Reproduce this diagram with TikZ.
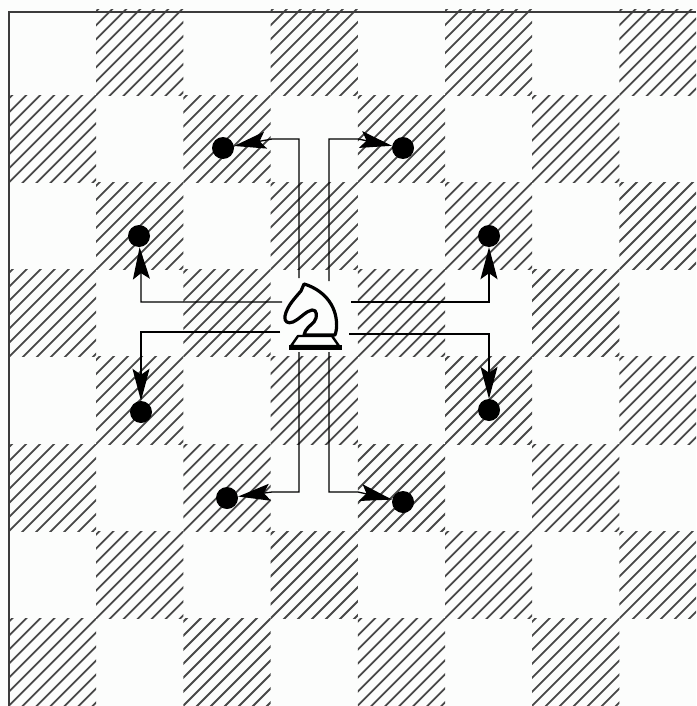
\documentclass[tikz,border=0pt]{standalone}
\usetikzlibrary{arrows.meta}
\definecolor{paper}{HTML}{FCFDFC}
\definecolor{ink}{HTML}{1A1A1A}
\tikzset{
  x=1pt,y=-1pt,
  hatchline/.style={line width=1.8pt,draw=ink!80!white,line cap=butt},
  frameline/.style={line width=1.4pt,draw=ink!85!white},
  movearrow/.style={line width=1.3pt,draw=black,line join=miter,-{Stealth[length=32pt,width=17pt,inset=6pt]}},
  targetdot/.style={circle,fill=black,inner sep=0pt,minimum size=22pt},
  knightbox/.style={inner sep=0pt,minimum width=60pt,minimum height=68pt},
  knightline/.style={line width=3.2pt,draw=black,fill=paper,line join=round,line cap=round},
  knightfoot/.style={line width=4.5pt,draw=black,line cap=butt},
}
\newcommand{\darksq}[2]{%
  \begin{scope}
    \clip (#1,#2) rectangle ++(87.2,87.2);
    \foreach \k in {-84,-70,...,84} {
      \draw[hatchline] (#1-6+\k,#2+87.2+6) -- ++(100,-100);
    }
  \end{scope}}
\begin{document}
\begin{tikzpicture}
\useasboundingbox (0,0) rectangle (696,706);
\fill[paper] (0,0) rectangle (696,706);
\begin{scope}
\clip (9,10) rectangle (696,706);
\foreach \c in {0,...,7} {
  \foreach \r in {0,...,7} {
    \pgfmathtruncatemacro{\parity}{mod(\c+\r,2)}
    \ifnum\parity=1
      \pgfmathsetmacro{\px}{9+87.2*\c}
      \pgfmathsetmacro{\py}{8+87.2*\r}
      \darksq{\px}{\py}
    \fi
  }
}
\end{scope}
\draw[frameline] (9,706) -- (9,12) -- (696,12);
\node[knightbox] (knight) at (313,315) {};
\draw[knightline] (304,284)
  .. controls (318,288) and (335,300) .. (336.5,322)
  .. controls (337,328) and (336,332) .. (335,335)
  -- (304,335)
  .. controls (305,329) and (310,326) .. (314,322)
  .. controls (318,317) and (317,309) .. (312,310)
  .. controls (306,311) and (301,318) .. (293,322)
  .. controls (288,324) and (284,322) .. (285,316)
  .. controls (287,306) and (295,298) .. (301,291)
  -- cycle;
\draw[knightline,line width=2.4pt] (298,336) -- (332,336) -- (339,346) -- (291,346) -- cycle;
\draw[knightfoot] (289,347.5) -- (342,347.5);
\node[targetdot] (d1) at (223,148) {};
\node[targetdot] (d2) at (403,148) {};
\node[targetdot] (d3) at (139,236) {};
\node[targetdot] (d4) at (489,236) {};
\node[targetdot] (d5) at (141,412) {};
\node[targetdot] (d6) at (489,410) {};
\node[targetdot] (d7) at (227,498) {};
\node[targetdot] (d8) at (403,502) {};
\coordinate (s1) at (299,278);
\coordinate (s2) at (329,281);
\coordinate (s3) at (282,302);
\coordinate (s4) at (351,302);
\coordinate (s5) at (280,332);
\coordinate (s6) at (349,334);
\coordinate (s7) at (299,352);
\coordinate (s8) at (329,352);
\draw[movearrow] (s1) -- (299,139) -- (272,139) -- (d1);
\draw[movearrow] (s2) -- (329,139) -- (358,139) -- (d2);
\draw[movearrow] (s3) -- (141,302) -- (141,272) -- (d3);
\draw[movearrow] (s4) -- (489,302) -- (489,272) -- (d4);
\draw[movearrow] (s5) -- (141,332) -- (141,365) -- (d5);
\draw[movearrow] (s6) -- (489,334) -- (489,363) -- (d6);
\draw[movearrow] (s7) -- (299,492) -- (272,492) -- (d7);
\draw[movearrow] (s8) -- (329,492) -- (358,492) -- (d8);
\end{tikzpicture}
\end{document}
